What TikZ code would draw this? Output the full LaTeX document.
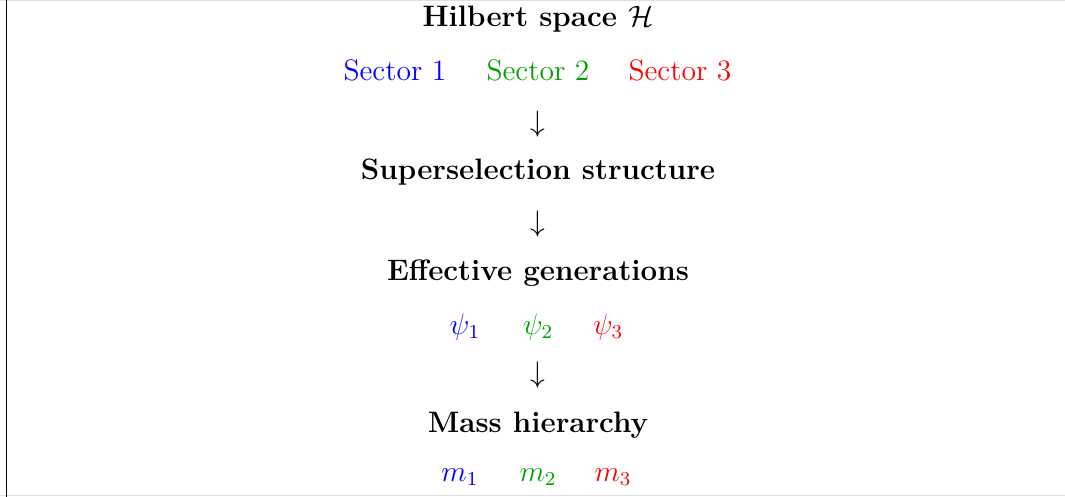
\documentclass[tikz,border=0pt]{standalone}
\usepackage{amsmath,amssymb}
\definecolor{sgreen}{RGB}{0,160,0}
\begin{document}
\begin{tikzpicture}[x=0.406pt,y=-0.406pt,
  every node/.style={font=\large},
  title/.style={font=\large\bfseries, inner sep=0pt},
  lbl/.style={inner sep=0pt},
  arr/.style={inner sep=0pt}]
\useasboundingbox (0,0) rectangle (1065,497);
\draw[gray!25, line width=0.8pt] (0,0.5) -- (1065,0.5);
\draw[gray!25, line width=0.8pt] (0,495.5) -- (1065,495.5);
\draw[black, line width=0.65pt] (6.5,0) -- (6.5,497);
\node[title] (h) at (538,19) {Hilbert space $\mathcal{H}$};
\node[lbl, text=blue] (s1) at (395,70) {Sector 1};
\node[lbl, text=sgreen] (s2) at (538,70) {Sector 2};
\node[lbl, text=red] (s3) at (680,70) {Sector 3};
\node[arr] (a1) at (538,124) {$\downarrow$};
\node[title] (ss) at (538,172) {Superselection structure};
\node[arr] (a2) at (538,224) {$\downarrow$};
\node[title] (eg) at (538,273) {Effective generations};
\node[lbl, text=blue] (p1) at (465,327) {$\psi_1$};
\node[lbl, text=sgreen] (p2) at (538,327) {$\psi_2$};
\node[lbl, text=red] (p3) at (608,327) {$\psi_3$};
\node[arr] (a3) at (538,375) {$\downarrow$};
\node[title] (mh) at (538,425) {Mass hierarchy};
\node[lbl, text=blue] (m1) at (460,477) {$m_1$};
\node[lbl, text=sgreen] (m2) at (538,477) {$m_2$};
\node[lbl, text=red] (m3) at (613,477) {$m_3$};
\end{tikzpicture}
\end{document}
